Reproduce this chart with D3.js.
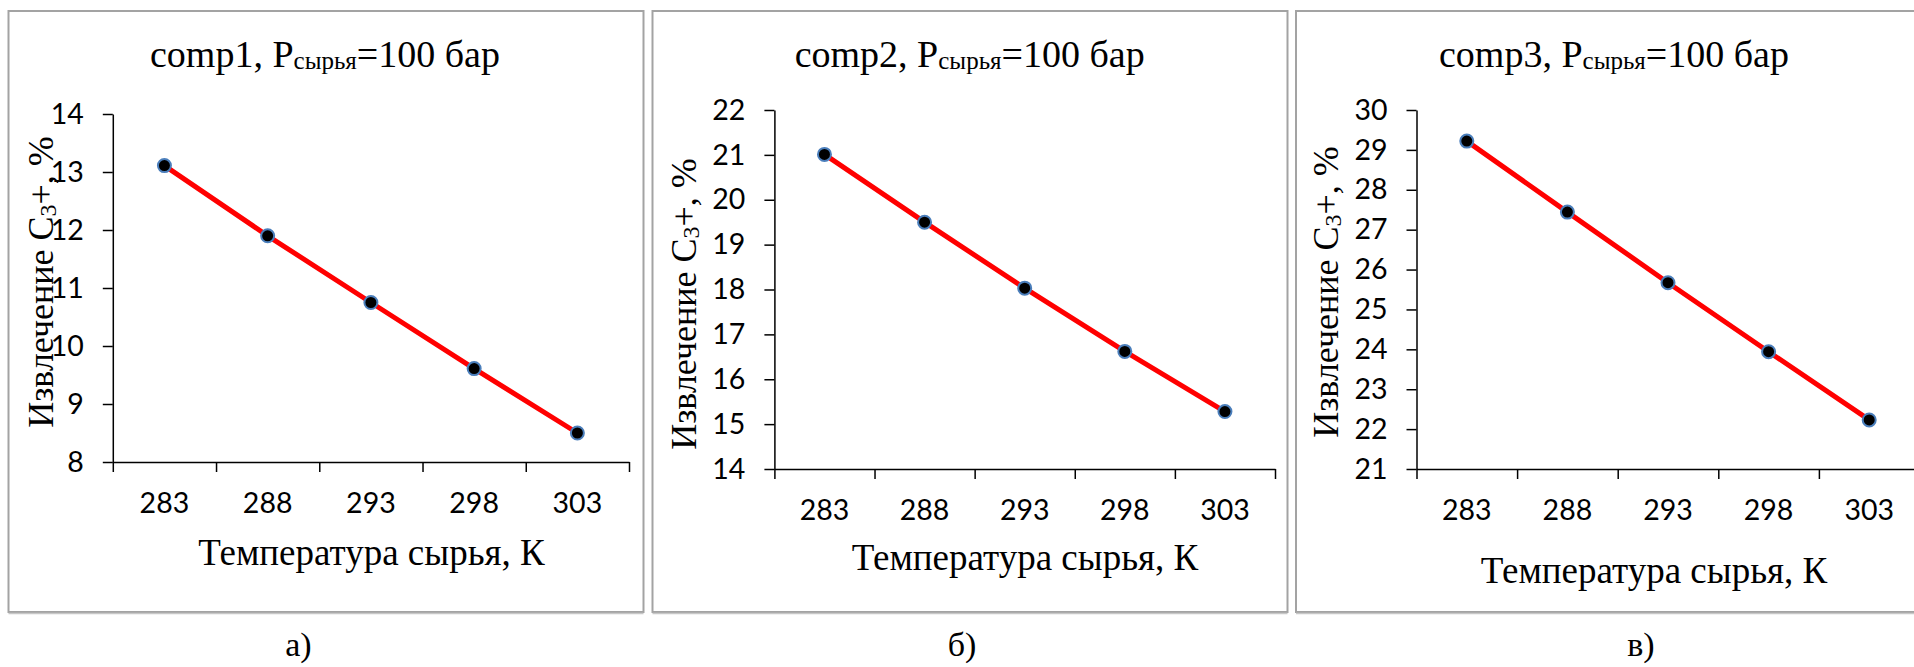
<!DOCTYPE html>
<meta charset="utf-8">
<script src="https://d3js.org/d3.v7.min.js"></script>
<style>
  body { margin: 0; background: #fff; }
</style>
<div id="chart"></div>
<script>

// data
var temps = ["283", "288", "293", "298", "303"];
var comp1 = [13.11, 11.90, 10.75, 9.61, 8.50];
var comp2 = [21.01, 19.50, 18.03, 16.62, 15.28];
var comp3 = [29.22, 27.44, 25.67, 23.94, 22.23];
var yTicks1 = [8, 9, 10, 11, 12, 13, 14];
var yTicks2 = [14, 15, 16, 17, 18, 19, 20, 21, 22];
var yTicks3 = [21, 22, 23, 24, 25, 26, 27, 28, 29, 30];
var names = ["comp1", "comp2", "comp3"];
var captions = ["а)", "б)", "в)"];

var serif = "'Liberation Serif', 'Times New Roman', serif";
var sans = "Lato, Carlito, Calibri, sans-serif";

var svg = d3.select("#chart")
    .append("svg")
    .attr("width", 1914)
    .attr("height", 667);

// layout of the three panels
var panels = [
  {values: comp1, ticks: yTicks1, box: [8.5, 11, 635, 601], x0: 112.8, x1: 629, yTop: 114, yBot: 462,
   title: 325, ytl: [52.6, 282], xtl: [371.5, 564.5], cap: 298.5},
  {values: comp2, ticks: yTicks2, box: [652.5, 11, 635, 601], x0: 774.4, x1: 1275, yTop: 110, yBot: 469,
   title: 969.7, ytl: [695.6, 304], xtl: [1025, 570], cap: 962},
  {values: comp3, ticks: yTicks3, box: [1296, 11, 636, 601], x0: 1416.5, x1: 1919.5, yTop: 110, yBot: 469,
   title: 1614, ytl: [1337.8, 292], xtl: [1654, 583], cap: 1641}
];

panels.forEach(function(p, i) {

  // panel frame
  svg.append("rect")
    .attr("x", p.box[0]).attr("y", p.box[1])
    .attr("width", p.box[2]).attr("height", p.box[3])
    .attr("fill", "white")
    .attr("stroke", "#a3a3a3")
    .attr("stroke-width", 2);
  svg.append("line")
    .attr("x1", p.box[0]).attr("x2", p.box[0] + p.box[2])
    .attr("y1", p.box[1] + p.box[3] + 1.5).attr("y2", p.box[1] + p.box[3] + 1.5)
    .attr("stroke", "#c8c8c8").attr("stroke-width", 1.5);

  var x = d3.scaleBand().domain(temps).range([p.x0, p.x1]).padding(0);
  var xEdge = d3.scaleLinear().domain([0, temps.length]).range([p.x0, p.x1]);
  var y = d3.scaleLinear()
    .domain([d3.min(p.ticks), d3.max(p.ticks)])
    .range([p.yBot, p.yTop]);

  // y axis
  var gy = svg.append("g")
    .attr("transform", "translate(" + p.x0 + ",0)")
    .call(d3.axisLeft(y).tickValues(p.ticks).tickFormat(d3.format("d"))
      .tickSize(10).tickSizeOuter(0).tickPadding(19));
  gy.selectAll("text").style("font-family", sans).style("font-size", "28.5px").attr("fill", "black");
  gy.selectAll("line, path").attr("stroke", "black").attr("stroke-width", 1.5);

  // x axis: tick marks between categories
  var gx = svg.append("g")
    .attr("transform", "translate(0," + p.yBot + ")")
    .call(d3.axisBottom(xEdge).tickValues(d3.range(temps.length + 1)).tickFormat("").tickSize(10).tickSizeOuter(0));
  gx.selectAll("line, path").attr("stroke", "black").attr("stroke-width", 1.5);

  // x axis labels centred in each category
  var gl = svg.append("g")
    .attr("transform", "translate(0," + p.yBot + ")")
    .call(d3.axisBottom(x).tickSize(0).tickPadding(31));
  gl.select(".domain").remove();
  gl.selectAll("text").style("font-family", sans).style("font-size", "28.5px").attr("fill", "black");

  // line
  var line = d3.line()
    .x(function(d, j) { return x(temps[j]) + x.bandwidth() / 2; })
    .y(function(d) { return y(d); });
  svg.append("path")
    .datum(p.values)
    .attr("d", line)
    .attr("fill", "none")
    .attr("stroke", "#ff0000")
    .attr("stroke-width", 5);

  // markers
  svg.append("g")
    .selectAll("circle")
    .data(p.values)
    .join("circle")
    .attr("cx", function(d, j) { return x(temps[j]) + x.bandwidth() / 2; })
    .attr("cy", function(d) { return y(d); })
    .attr("r", 6.5)
    .attr("fill", "black")
    .attr("stroke", "#4a7ebb")
    .attr("stroke-width", 2);

  // chart title
  var t = svg.append("text")
    .attr("x", p.title).attr("y", 67)
    .attr("text-anchor", "middle")
    .style("font-family", serif).style("font-size", "38px");
  t.append("tspan").text(names[i] + ", P");
  t.append("tspan").attr("font-size", "25px").attr("dy", 2).text("сырья");
  t.append("tspan").attr("dy", -2).text("=100 бар");

  // y axis title
  var yt = svg.append("text")
    .attr("transform", "translate(" + p.ytl[0] + "," + p.ytl[1] + ") rotate(-90)")
    .attr("text-anchor", "middle")
    .style("font-family", serif).style("font-size", "36px");
  yt.append("tspan").text("Извлечение С");
  yt.append("tspan").attr("font-size", "24px").attr("dy", 3).text("3");
  yt.append("tspan").attr("dy", -3).text("+, %");

  // x axis title
  svg.append("text")
    .attr("x", p.xtl[0]).attr("y", p.xtl[1])
    .attr("text-anchor", "middle")
    .style("font-family", serif).style("font-size", "37px")
    .text("Температура сырья, К");

  // caption under panel
  svg.append("text")
    .attr("x", p.cap).attr("y", 656)
    .attr("text-anchor", "middle")
    .style("font-family", serif).style("font-size", "34px")
    .text(captions[i]);
});

</script>
